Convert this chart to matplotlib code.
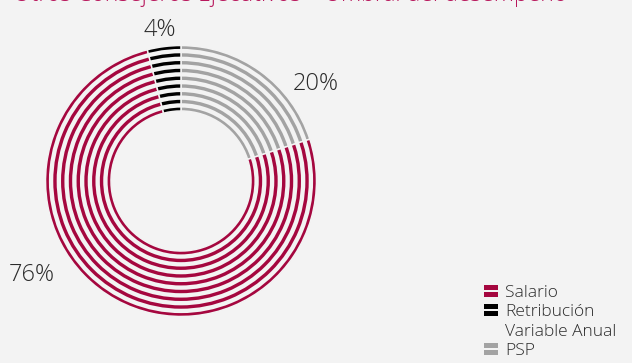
import numpy as np
import matplotlib.pyplot as plt
from matplotlib.patches import Wedge
from matplotlib.path import Path

# Reparto de la retribucion (umbral del desempeno), en %
series = ['PSP', 'Salario', 'Retribución\nVariable Anual']
shares = [20, 76, 4]
colors = ['#a3a3a3', '#a5073f', '#000000']
legend_order = [1, 2, 0]

title = 'Otros Consejeros Ejecutivos – Umbral del desempeño'
bg = '#f3f3f3'

plt.rcParams['font.family'] = ['Open Sans', 'DejaVu Sans']

W, H = 632, 363
fig = plt.figure(figsize=(W / 100, H / 100), dpi=100, facecolor=bg)
ax = fig.add_axes([0, 0, 1, 1])
ax.set_facecolor(bg)

cx, cy = 181, H - 181
r_out, r_in = 135.5, 70
n_rings = 9
stripe = 3.4
pitch = (r_out - r_in - stripe) / (n_rings - 1)

ax.pie(shares, colors=colors, radius=r_out, center=(cx, cy),
       startangle=90, counterclock=False,
       wedgeprops=dict(width=r_out - r_in, edgecolor=bg, linewidth=1.1))

# huecos entre los anillos concentricos
for k in range(n_rings - 1):
    r0 = r_in + k * pitch + stripe
    r1 = r_in + (k + 1) * pitch
    ax.add_patch(Wedge((cx, cy), r1, 0, 360, width=r1 - r0,
                       facecolor=bg, edgecolor='none', zorder=5))

ax.set_xlim(0, W)
ax.set_ylim(0, H)
ax.set_aspect('auto')
ax.axis('off')

# etiquetas de porcentaje
label_pos = [(316, 84), (32, 275), (160, 30)]
for v, (x, y) in zip(shares, label_pos):
    ax.text(x, H - y, f'{v}%', ha='center', va='center', fontsize=17,
            color='#2b2b2b', fontweight='light')

ax.text(13, H - 1, title, ha='left', va='baseline', fontsize=16.5,
        color='#b8175c', fontweight='light')

# marcador "=" de la leyenda
bar_verts = [(-1, 0.12), (1, 0.12), (1, 0.8), (-1, 0.8), (-1, 0.12),
             (-1, -0.8), (1, -0.8), (1, -0.12), (-1, -0.12), (-1, -0.8)]
bar_codes = [Path.MOVETO, Path.LINETO, Path.LINETO, Path.LINETO, Path.CLOSEPOLY] * 2
eq_marker = Path(bar_verts, bar_codes)

row_y = [291, 310, 349]
for i, y in zip(legend_order, row_y):
    ax.plot(491, H - y, marker=eq_marker, markersize=10.5, color=colors[i],
            markeredgewidth=0, linestyle='none')
    ax.text(505, H - y + 6, series[i], ha='left', va='top', fontsize=12.5,
            color='#2b2b2b', fontweight='light', linespacing=1.35)

fig.savefig('out.png', dpi=100, facecolor=bg)
